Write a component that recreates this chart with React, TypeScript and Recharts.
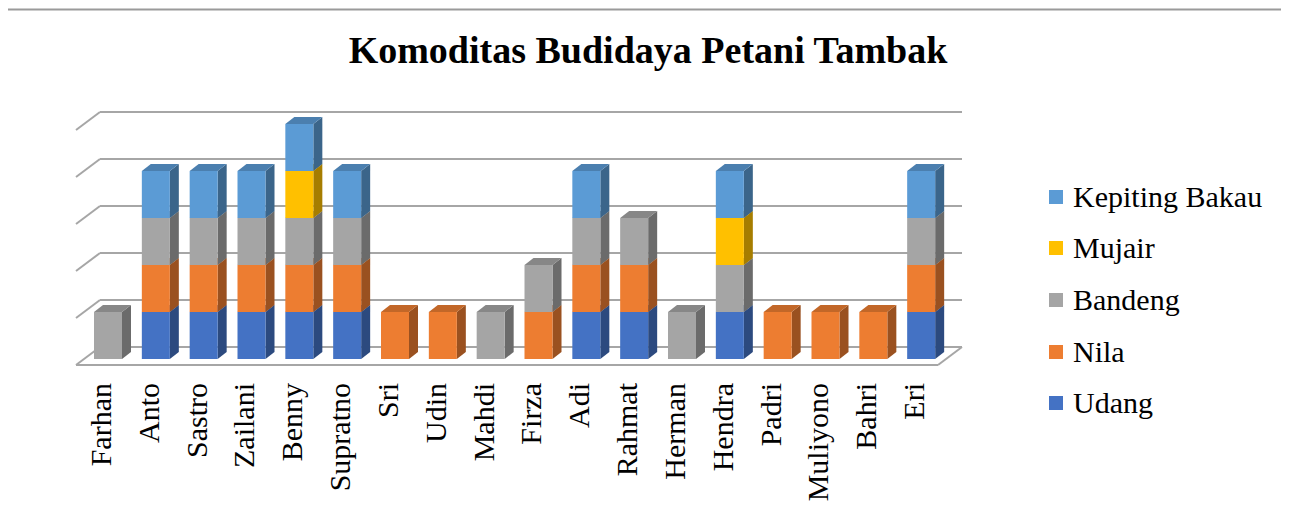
import React from "react";
import { BarChart, Bar, XAxis, YAxis, CartesianGrid, Legend } from "recharts";

const categories = [
  "Farhan", "Anto", "Sastro", "Zailani", "Benny", "Supratno", "Sri", "Udin", "Mahdi",
  "Firza", "Adi", "Rahmat", "Herman", "Hendra", "Padri", "Muliyono", "Bahri", "Eri",
];
const udang = [0, 1, 1, 1, 1, 1, 0, 0, 0, 0, 1, 1, 0, 1, 0, 0, 0, 1];
const nila = [0, 1, 1, 1, 1, 1, 1, 1, 0, 1, 1, 1, 0, 0, 1, 1, 1, 1];
const bandeng = [1, 1, 1, 1, 1, 1, 0, 0, 1, 1, 1, 1, 1, 1, 0, 0, 0, 1];
const mujair = [0, 0, 0, 0, 1, 0, 0, 0, 0, 0, 0, 0, 0, 1, 0, 0, 0, 0];
const kepiting = [0, 1, 1, 1, 1, 1, 0, 0, 0, 0, 1, 0, 0, 1, 0, 0, 0, 1];
const yTicks = [0, 1, 2, 3, 4, 5];

const series = [
  { key: "Udang", values: udang, color: "#4472C4" },
  { key: "Nila", values: nila, color: "#ED7D31" },
  { key: "Bandeng", values: bandeng, color: "#A5A5A5" },
  { key: "Mujair", values: mujair, color: "#FFC000" },
  { key: "Kepiting Bakau", values: kepiting, color: "#5B9BD5" },
];

const data = categories.map((name, i) => {
  const row: Record<string, string | number> = { name };
  series.forEach((s) => (row[s.key] = s.values[i]));
  return row;
});

const FONT = '"Liberation Serif", "DejaVu Serif", serif';
const GRID = "#a6a6a6";
const DX = 9; // bar depth
const DY = 7;

function shade(hex: string, f: number) {
  const n = parseInt(hex.slice(1), 16);
  const r = Math.round(((n >> 16) & 255) * f);
  const g = Math.round(((n >> 8) & 255) * f);
  const b = Math.round((n & 255) * f);
  return `rgb(${r},${g},${b})`;
}

const Bar3D = (props: any) => {
  const { x, y, width, height, fill } = props;
  if (!height || height <= 0) return null;
  const r = x + width;
  const b = y + height;
  return (
    <g>
      <polygon points={`${r},${b} ${r},${y} ${r + DX},${y - DY} ${r + DX},${b - DY}`} fill={shade(fill, 0.65)} />
      <polygon points={`${x},${y} ${x + DX},${y - DY} ${r + DX},${y - DY} ${r},${y}`} fill={shade(fill, 0.82)} />
      <rect x={x} y={y} width={width} height={height} fill={fill} />
    </g>
  );
};

// perspective gridline: back wall line plus the diagonal on the left side wall
const GridLine3D = (props: any) => {
  const { x1, x2, y1, index } = props;
  const backY = y1 - 12;
  const frontY = y1 + 6;
  const left = x1 + 16;
  const right = x2 + 17;
  return (
    <g key={`g-${index}`}>
      <line x1={left} y1={backY} x2={right} y2={backY} stroke={GRID} strokeWidth={2} />
      <line x1={x1 - 8} y1={frontY} x2={left} y2={backY} stroke={GRID} strokeWidth={2} />
      {index === 0 || Math.abs(y1 - props.y - props.height) < 1 ? (
        <g>
          <line x1={x1 - 8} y1={frontY} x2={x2 - 7} y2={frontY} stroke={GRID} strokeWidth={2} />
          <line x1={x2 - 7} y1={frontY} x2={right} y2={backY} stroke={GRID} strokeWidth={2} />
        </g>
      ) : null}
    </g>
  );
};

const NameTick = (props: any) => {
  const { x, y, payload } = props;
  return (
    <text
      transform={`translate(${x + 3},${y + 24}) rotate(-90)`}
      textAnchor="end"
      fontFamily={FONT}
      fontSize={30}
      fill="#000"
    >
      {payload.value}
    </text>
  );
};

const LegendBox = () => (
  <div style={{ fontFamily: FONT, fontSize: 30, color: "#000" }}>
    {[...series].reverse().map((s) => (
      <div key={s.key} style={{ display: "flex", alignItems: "center", height: 51.6 }}>
        <span style={{ width: 14, height: 14, background: s.color, marginRight: 10, display: "inline-block" }} />
        <span style={{ lineHeight: "30px" }}>{s.key}</span>
      </div>
    ))}
  </div>
);

export default function App() {
  return (
    <div style={{ position: "relative", margin: -8, width: 1289, height: 520, overflow: "hidden", background: "#fff" }}>
      <div
        style={{
          position: "absolute",
          left: 0,
          width: 1296,
          top: 31,
          textAlign: "center",
          fontFamily: FONT,
          fontWeight: "bold",
          fontSize: 38,
          lineHeight: "38px",
        }}
      >
        Komoditas Budidaya Petani Tambak
      </div>
      <div style={{ position: "absolute", left: 0, top: 0 }}>
        <BarChart
          width={1289}
          height={520}
          data={data}
          margin={{ top: 124, right: 344, left: 84, bottom: 0 }}
          barSize={28}
        >
          <CartesianGrid vertical={false} horizontal={GridLine3D} />
          <XAxis
            dataKey="name"
            height={161}
            axisLine={false}
            tickLine={false}
            tickSize={0}
            tickMargin={0}
            interval={0}
            tick={NameTick}
          />
          <YAxis hide domain={[0, 5]} ticks={yTicks} />
          <Legend
            layout="vertical"
            align="center"
            verticalAlign="middle"
            content={LegendBox}
            wrapperStyle={{ left: 1049, top: 171, width: 240 }}
          />
          {series.map((s) => (
            <Bar key={s.key} dataKey={s.key} stackId="a" fill={s.color} shape={Bar3D} isAnimationActive={false} />
          ))}
        </BarChart>
      </div>
      {/* chart frame: only the left and top edges are inside the picture */}
      <svg width={1289} height={520} style={{ position: "absolute", left: 0, top: 0, pointerEvents: "none" }}>
        <line x1={6.5} y1={9.5} x2={1289} y2={9.5} stroke="#9a9a9a" strokeWidth={2} />
        <line x1={6.5} y1={9.5} x2={6.5} y2={520} stroke="#9a9a9a" strokeWidth={2} />
      </svg>
    </div>
  );
}
